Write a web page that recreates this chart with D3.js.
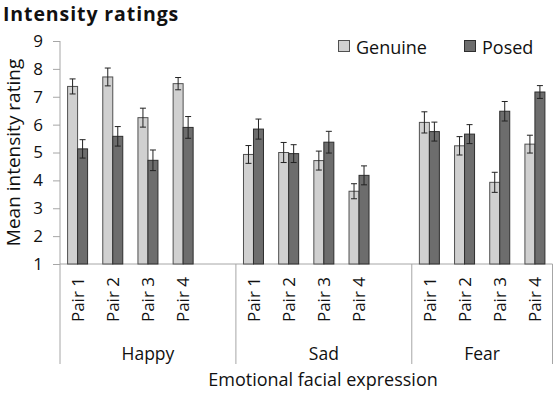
<!DOCTYPE html>
<html>
<head>
<meta charset="utf-8">
<script src="https://cdn.jsdelivr.net/npm/d3@7"></script>
<style>
  html, body { margin: 0; padding: 0; background: #fff; }
  svg { display: block; font-family: "Open Sans", sans-serif; }
</style>
</head>
<body>
<svg id="chart" width="558" height="394"></svg>
<script>
// ---- data ----
const groups = ["Happy", "Sad", "Fear"];
const pairs = ["Pair 1", "Pair 2", "Pair 3", "Pair 4"];
const series = ["Genuine", "Posed"];
const genuineMean = [7.37, 7.71, 6.25, 7.47,  4.93, 5.00, 4.71, 3.61,  6.08, 5.24, 3.93, 5.30];
const genuineErr  = [0.27, 0.32, 0.34, 0.22,  0.32, 0.36, 0.34, 0.27,  0.38, 0.33, 0.36, 0.32];
const posedMean   = [5.13, 5.58, 4.72, 5.90,  5.84, 4.96, 5.37, 4.18,  5.75, 5.66, 6.48, 7.17];
const posedErr    = [0.33, 0.35, 0.37, 0.39,  0.36, 0.32, 0.39, 0.34,  0.34, 0.34, 0.35, 0.23];
const yTicks = [1, 2, 3, 4, 5, 6, 7, 8, 9];

// ---- build slots (4 pairs per group, an empty slot after each group except the last) ----
const slots = [];
groups.forEach((g, gi) => {
  pairs.forEach(p => slots.push(g + "|" + p));
  if (gi < groups.length - 1) slots.push(g + "|gap");
});
const rows = [];
groups.forEach((g, gi) => pairs.forEach((p, pi) => {
  const i = gi * pairs.length + pi;
  rows.push({ group: g, pair: p, key: g + "|" + p,
    values: [ { s: "Genuine", v: genuineMean[i], e: genuineErr[i] },
              { s: "Posed",   v: posedMean[i],   e: posedErr[i] } ] });
}));

const svg = d3.select("#chart");
const mLeft = 60, mRight = 552.5, mTop = 41, mBottom = 264;

const x = d3.scaleBand().domain(slots).range([mLeft, mRight]).padding(0);
const xs = d3.scaleBand().domain(series).range([0, 20]);
const y = d3.scaleLinear().domain([1, 9]).range([mBottom, mTop]);
const color = d3.scaleOrdinal().domain(series).range(["#d0d0d0", "#6d6d6d"]);
const strokeC = d3.scaleOrdinal().domain(series).range(["#505050", "#2e2e2e"]);
const axisGray = "#a6a6a6";

// title
svg.append("text").attr("x", 3).attr("y", 21)
  .attr("font-size", 19.5).attr("font-weight", "bold").attr("letter-spacing", 0.9).attr("fill", "#111")
  .text("Intensity ratings");

// y axis
const yAxis = svg.append("g").attr("transform", `translate(${mLeft},0)`)
  .call(d3.axisLeft(y).tickValues(yTicks).tickSize(7).tickPadding(10).tickFormat(d3.format("d")));
yAxis.selectAll("path, line").attr("stroke", axisGray);
yAxis.selectAll("text").attr("font-size", 17).attr("fill", "#111").attr("font-family", "Open Sans");
yAxis.select(".domain").attr("d", `M0,${mTop}V${mBottom}`);

// x axis line
svg.append("line").attr("x1", mLeft).attr("x2", mRight).attr("y1", mBottom).attr("y2", mBottom)
  .attr("stroke", axisGray);

// bars
const pg = svg.append("g").selectAll("g").data(rows).join("g")
  .attr("transform", d => `translate(${x(d.key) + (x.bandwidth() - 20) / 2},0)`);
pg.selectAll("rect").data(d => d.values).join("rect")
  .attr("x", d => xs(d.s)).attr("width", xs.bandwidth())
  .attr("y", d => y(d.v)).attr("height", d => y(1) - y(d.v))
  .attr("fill", d => color(d.s)).attr("stroke", d => strokeC(d.s)).attr("stroke-width", 1);
// error bars
const eb = pg.selectAll("g.err").data(d => d.values).join("g").attr("class", "err")
  .attr("transform", d => `translate(${xs(d.s) + xs.bandwidth() / 2},0)`)
  .attr("stroke", "#222").attr("stroke-width", 1);
eb.append("line").attr("y1", d => y(d.v + d.e)).attr("y2", d => y(d.v - d.e));
eb.append("line").attr("x1", -3).attr("x2", 3).attr("y1", d => y(d.v + d.e)).attr("y2", d => y(d.v + d.e));
eb.append("line").attr("x1", -3).attr("x2", 3).attr("y1", d => y(d.v - d.e)).attr("y2", d => y(d.v - d.e));

// pair labels (rotated)
svg.append("g").selectAll("text").data(rows).join("text")
  .attr("transform", d => `translate(${x(d.key) + x.bandwidth() / 2},277) rotate(-90)`)
  .attr("text-anchor", "end").attr("dy", "0.36em")
  .attr("font-size", 17).attr("fill", "#111")
  .text(d => d.pair);

// group separators
const groupStart = groups.map(g => x(g + "|Pair 1"));
const groupEnd = groups.map((g, gi) => gi < groups.length - 1 ? x(g + "|gap") + x.bandwidth() : mRight);
const sepX = [groupStart[0]].concat(groupEnd);
svg.append("g").selectAll("line").data(sepX).join("line")
  .attr("x1", d => d).attr("x2", d => d).attr("y1", mBottom).attr("y2", 364)
  .attr("stroke", axisGray);

// group labels
svg.append("g").selectAll("text").data(groups).join("text")
  .attr("x", (g, i) => (groupStart[i] + groupEnd[i]) / 2).attr("y", 360)
  .attr("text-anchor", "middle").attr("font-size", 17.5).attr("fill", "#111")
  .text(g => g);

// axis titles
svg.append("text").attr("x", 323).attr("y", 386)
  .attr("text-anchor", "middle").attr("font-size", 18).attr("fill", "#111")
  .text("Emotional facial expression");
svg.append("text").attr("transform", `translate(20,${(mTop + mBottom) / 2}) rotate(-90)`)
  .attr("text-anchor", "middle").attr("font-size", 19).attr("fill", "#111")
  .text("Mean intensity rating");

// legend
const leg = svg.append("g").selectAll("g").data(series).join("g")
  .attr("transform", (d, i) => `translate(${[338, 464][i]},0)`);
leg.append("rect").attr("x", 0.5).attr("y", 40.5).attr("width", 11).attr("height", 11)
  .attr("fill", d => color(d)).attr("stroke", d => strokeC(d));
leg.append("text").attr("x", 18).attr("y", 54).attr("font-size", 18).attr("fill", "#111")
  .text(d => d);
</script>
</body>
</html>
